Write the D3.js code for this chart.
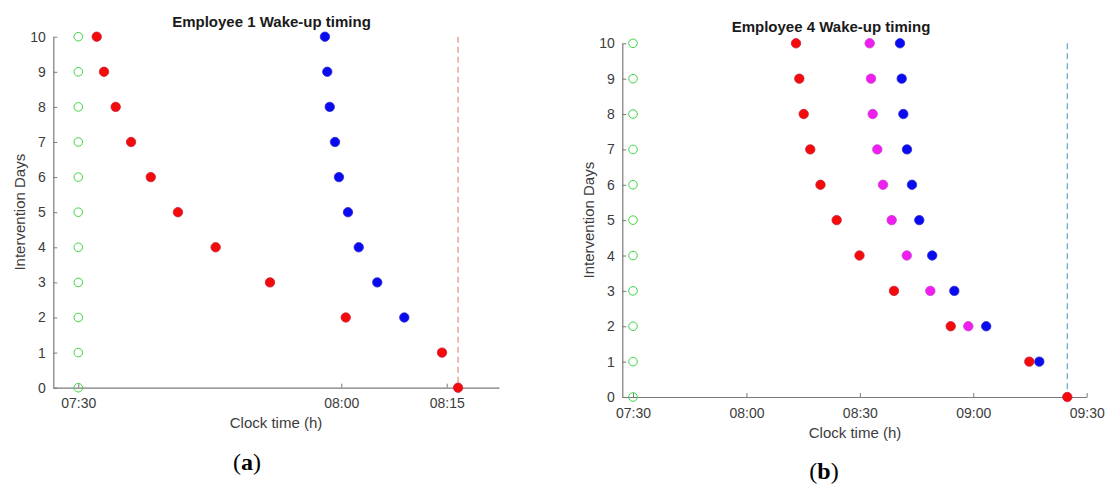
<!DOCTYPE html>
<html>
<head>
<meta charset="utf-8">
<script src="https://cdn.jsdelivr.net/npm/d3@7"></script>
<style>
  html, body { margin: 0; padding: 0; background: #fff; }
  svg { display: block; }
  text { font-family: "Liberation Sans", Arial, sans-serif; }
</style>
</head>
<body>
<script>
// ---------- DATA ----------
const days = [10, 9, 8, 7, 6, 5, 4, 3, 2, 1, 0];

// Employee 1 (panel a)
const e1Baseline = "07:30";
const e1Red  = ["07:32:06","07:32:56","07:34:16","07:36:01","07:38:16","07:41:22","07:45:40","07:51:52","08:00:38","08:14:20","08:16:37"];
const e1RedDays = [10, 9, 8, 7, 6, 5, 4, 3, 2, 1, 0];
const e1Blue = ["07:58:08","07:58:24","07:58:41","07:59:17","07:59:44","08:00:57","08:02:29","08:05:07","08:08:58"];
const e1BlueDays = [10, 9, 8, 7, 6, 5, 4, 3, 2];
const e1Deadline = "08:16:37";
const e1XTicks = ["07:30", "08:00", "08:15"];

// Employee 4 (panel b)
const e4Baseline = "07:30";
const e4Red  = ["08:13:07","08:13:59","08:15:09","08:16:53","08:19:35","08:23:52","08:29:54","08:39:02","08:54:02","09:14:49","09:24:52"];
const e4RedDays = [10, 9, 8, 7, 6, 5, 4, 3, 2, 1, 0];
const e4Magenta = ["08:32:36","08:32:57","08:33:24","08:34:37","08:36:07","08:38:25","08:42:25","08:48:38","08:58:41"];
const e4MagentaDays = [10, 9, 8, 7, 6, 5, 4, 3, 2];
const e4Blue = ["08:40:37","08:41:04","08:41:30","08:42:28","08:43:47","08:45:43","08:49:08","08:54:59","09:03:25","09:17:28"];
const e4BlueDays = [10, 9, 8, 7, 6, 5, 4, 3, 2, 1];
const e4Deadline = "09:24:52";
const e4XTicks = ["07:30", "08:00", "08:30", "09:00", "09:30"];

const yTicks = [0,1,2,3,4,5,6,7,8,9,10];

// ---------- HELPERS ----------
function toMin(s) {
  const p = s.split(":").map(Number);
  return p[0] * 60 + p[1] + (p[2] || 0) / 60;
}

const W = 1109, H = 486;
const svg = d3.select("body").append("svg").attr("width", W).attr("height", H);
svg.append("rect").attr("width", W).attr("height", H).attr("fill", "#fff");

const AXIS = "#7a7a7a", TXT = "#3c3c3c";
const RED = "#f50a0a", BLUE = "#0a0af0", MAG = "#f01ef0", GREEN = "#3fd43f";

function panel(cfg) {
  const g = svg.append("g");
  const x = cfg.x, y = cfg.y;

  // dashed deadline line
  g.append("line")
    .attr("x1", x(toMin(cfg.deadline))).attr("x2", x(toMin(cfg.deadline)))
    .attr("y1", y(10)).attr("y2", y(0))
    .attr("stroke", cfg.dashColor).attr("stroke-width", 1.2)
    .attr("stroke-dasharray", "6,4");

  // axes
  const xAxis = d3.axisBottom(x)
    .tickValues(cfg.xTicks.map(toMin))
    .tickFormat((d, i) => cfg.xTicks[i])
    .tickSizeInner(-4).tickSizeOuter(0).tickPadding(cfg.xPad);
  const gx = g.append("g").attr("transform", `translate(0,${y(0)})`).call(xAxis);
  const yAxis = d3.axisLeft(y)
    .tickValues(yTicks).tickFormat(d3.format("d"))
    .tickSizeInner(-4).tickSizeOuter(0).tickPadding(7.5);
  const gy = g.append("g").attr("transform", `translate(${x.range()[0]},0)`).call(yAxis);
  [gx, gy].forEach(a => {
    a.select(".domain").attr("stroke", AXIS).attr("stroke-width", 1.2);
    a.selectAll(".tick line").attr("stroke", AXIS);
    a.selectAll("text").attr("fill", TXT).style("font-size", "14px")
      .style("font-family", "'Liberation Sans', Arial, sans-serif");
  });

  // baseline (open green circles)
  g.selectAll(".base").data(days).join("circle")
    .attr("cx", x(toMin(cfg.baseline))).attr("cy", d => y(d)).attr("r", 4.3)
    .attr("fill", "none").attr("stroke", GREEN).attr("stroke-width", 1);

  // series
  cfg.series.forEach(s => {
    g.selectAll(null).data(s.times.map((t, i) => ({ t: toMin(t), d: s.days[i] }))).join("circle")
      .attr("cx", d => x(d.t)).attr("cy", d => y(d.d)).attr("r", 4.7)
      .attr("fill", s.color).attr("stroke", s.stroke).attr("stroke-width", 0.8);
  });

  // title
  g.append("text").attr("x", cfg.titleX).attr("y", cfg.titleY).attr("text-anchor", "middle")
    .style("font-size", "15px").style("font-weight", "bold").attr("fill", "#1a1a1a").text(cfg.title);
  // y label
  g.append("text").attr("transform", `translate(${cfg.yLabX},${(y(0) + y(10)) / 2}) rotate(-90)`)
    .attr("text-anchor", "middle").style("font-size", "15px").attr("fill", TXT).text("Intervention Days");
  // x label
  g.append("text").attr("x", cfg.xLabX).attr("y", cfg.xLabY).attr("text-anchor", "middle")
    .style("font-size", "15px").attr("fill", TXT).text("Clock time (h)");
  // panel label
  const pl = g.append("text").attr("x", cfg.panelX).attr("y", cfg.panelY).attr("text-anchor", "middle")
    .style("font-family", "'Liberation Serif', 'DejaVu Serif', serif").style("font-size", "24px").attr("fill", "#000");
  pl.append("tspan").text("(");
  pl.append("tspan").style("font-weight", "bold").text(cfg.panel);
  pl.append("tspan").text(")");
}

// Panel (a): x axis is piecewise (07:30 -> 08:00 -> 08:15 spacings as drawn)
const xA = d3.scaleLinear()
  .domain([toMin("07:27:09"), toMin("07:30"), toMin("08:00"), toMin("08:15"), toMin("08:22:26")])
  .range([53.3, 78.3, 341.3, 446.7, 499]);
const yA = d3.scaleLinear().domain([0, 10]).range([387.7, 36.7]);

panel({
  x: xA, y: yA, xTicks: e1XTicks, xPad: 10.5,
  baseline: e1Baseline, deadline: e1Deadline, dashColor: "#e0927a",
  series: [
    { times: e1Blue, days: e1BlueDays, color: BLUE, stroke: "#2a2ad0" },
    { times: e1Red, days: e1RedDays, color: RED, stroke: "#c81e3c" }
  ],
  title: "Employee 1 Wake-up timing", titleX: 271.5, titleY: 27,
  yLabX: 24.5, xLabX: 276, xLabY: 428,
  panel: "a", panelX: 247, panelY: 470
});

// Panel (b)
const xB = d3.scaleLinear().domain([toMin("07:27:10"), toMin("09:30")]).range([622.3, 1086.7]);
const yB = d3.scaleLinear().domain([0, 10]).range([397, 43.3]);

panel({
  x: xB, y: yB, xTicks: e4XTicks, xPad: 11,
  baseline: e4Baseline, deadline: e4Deadline, dashColor: "#5aa8cc",
  series: [
    { times: e4Blue, days: e4BlueDays, color: BLUE, stroke: "#2a2ad0" },
    { times: e4Magenta, days: e4MagentaDays, color: MAG, stroke: "#c83ad0" },
    { times: e4Red, days: e4RedDays, color: RED, stroke: "#c81e3c" }
  ],
  title: "Employee 4 Wake-up timing", titleX: 831, titleY: 32,
  yLabX: 594, xLabX: 855, xLabY: 438,
  panel: "b", panelX: 824, panelY: 479
});
</script>
</body>
</html>
